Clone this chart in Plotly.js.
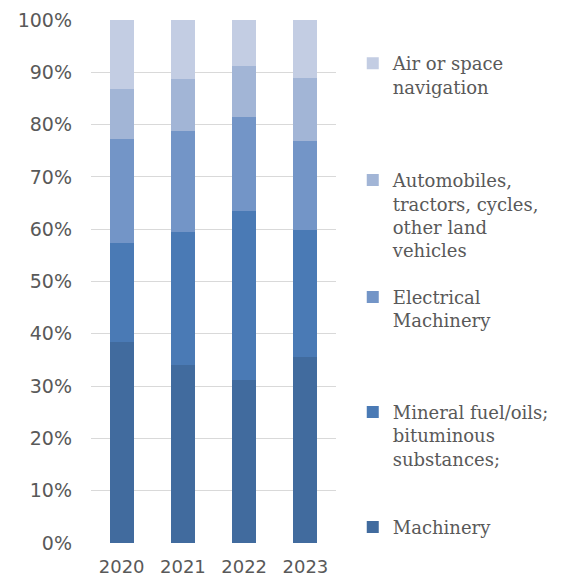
<!DOCTYPE html>
<html>
<head>
<meta charset="utf-8">
<script src="https://cdn.plot.ly/plotly-3.0.1.min.js"></script>
<style>html,body{margin:0;padding:0;background:#fff;}#chart{width:566px;height:579px;}</style>
</head>
<body>
<div id="chart"></div>
<script>
var years = ["2020", "2021", "2022", "2023"];
var machinery = [38.5, 34.1, 31.2, 35.5];
var mineralFuel = [18.8, 25.4, 32.3, 24.4];
var electrical = [19.9, 19.3, 17.9, 17.0];
var automobiles = [9.6, 10.0, 9.8, 12.1];
var airSpace = [13.2, 11.2, 8.8, 11.0];

var names = [
  "Machinery",
  "Mineral fuel/oils;<br>bituminous<br>substances;",
  "Electrical<br>Machinery",
  "Automobiles,<br>tractors, cycles,<br>other land<br>vehicles",
  "Air or space<br>navigation"
];
var series = [machinery, mineralFuel, electrical, automobiles, airSpace];
var colors = ["#416b9e", "#4a7ab5", "#7395c7", "#a2b5d6", "#c3cde3"];
var legendIds = ["legend5", "legend4", "legend3", "legend2", "legend"];
var legendY = [523, 408, 293, 176, 59]; // first-line pixel centres

var traces = series.map(function (vals, i) {
  return {
    type: "bar",
    x: years,
    y: vals,
    name: names[i],
    marker: { color: colors[i], line: { width: 0 } },
    legend: legendIds[i],
    hoverinfo: "x+y+name"
  };
});

var plotTop = 20, plotBottom = 543.3, plotLeft = 90.6, plotRight = 336.2;
var H = plotBottom - plotTop, W = plotRight - plotLeft;

var layout = {
  width: 566,
  height: 579,
  margin: { l: plotLeft, r: 566 - plotRight, t: plotTop, b: 579 - plotBottom },
  barmode: "stack",
  bargap: 0.61,
  paper_bgcolor: "#ffffff",
  plot_bgcolor: "#ffffff",
  font: { family: "DejaVu Sans", size: 18, color: "#595959" },
  xaxis: {
    type: "category",
    showgrid: false,
    zeroline: false,
    showline: false,
    ticks: "",
    ticklabelstandoff: 11,
    tickfont: { family: "DejaVu Sans", size: 18, color: "#595959" }
  },
  yaxis: {
    range: [0, 100],
    dtick: 10,
    ticksuffix: "%",
    showgrid: true,
    gridcolor: "#d9d9d9",
    gridwidth: 1,
    zeroline: false,
    showline: false,
    ticks: "",
    ticklabelstandoff: 18,
    tickfont: { family: "DejaVu Sans", size: 19, color: "#595959" },
    fixedrange: true
  },
  showlegend: true
};

legendIds.forEach(function (id, i) {
  layout[id] = {
    x: (353 - plotLeft) / W,
    xanchor: "left",
    y: (plotBottom - (legendY[i] - 14)) / H,
    yanchor: "top",
    valign: "top",
    bgcolor: "rgba(0,0,0,0)",
    borderwidth: 0,
    font: { family: "DejaVu Serif", size: 18, color: "#595959" }
  };
});

Plotly.newPlot("chart", traces, layout, { displayModeBar: false, staticPlot: true });
</script>
</body>
</html>
